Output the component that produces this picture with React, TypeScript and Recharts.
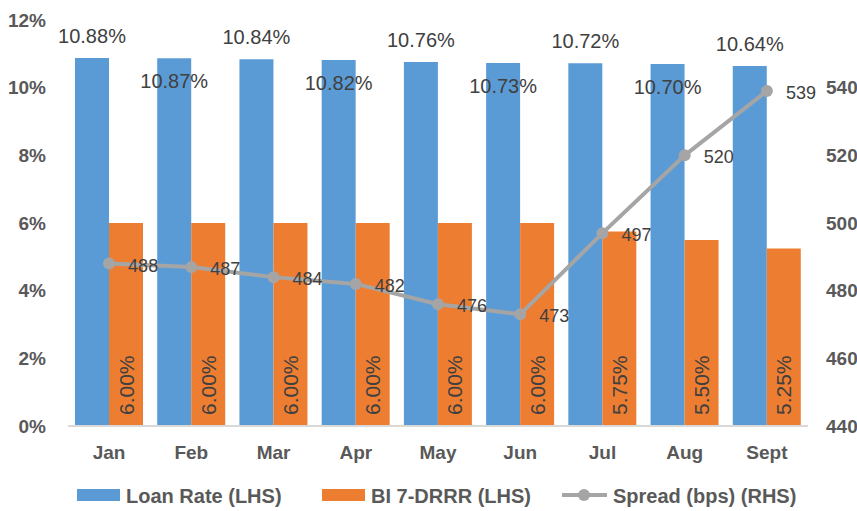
import React from "react";
import {
  ComposedChart,
  Bar,
  Line,
  XAxis,
  YAxis,
  LabelList,
  Legend,
} from "recharts";

const months = ["Jan", "Feb", "Mar", "Apr", "May", "Jun", "Jul", "Aug", "Sept"];
const loanRate = [10.88, 10.87, 10.84, 10.82, 10.76, 10.73, 10.72, 10.7, 10.64];
const biRate = [6.0, 6.0, 6.0, 6.0, 6.0, 6.0, 5.75, 5.5, 5.25];
const spread = [488, 487, 484, 482, 476, 473, 497, 520, 539];
const leftTicks = [0, 2, 4, 6, 8, 10, 12];
const rightTicks = [440, 460, 480, 500, 520, 540];

const data = months.map((m, i) => ({
  month: m,
  loan: loanRate[i],
  bi: biRate[i],
  spread: spread[i],
}));

const FONT = "'Liberation Sans', Arial, sans-serif";
const BLUE = "#5B9BD5";
const ORANGE = "#ED7D31";
const GREY = "#A5A5A5";
const TEXT = "#404040";
const AXIS_TEXT = "#595959";

const LoanLabel = (props: any) => {
  const { x, y, width, value, index } = props;
  const dy = index % 2 === 0 ? -22 : 23;
  return (
    <text
      x={x + width / 2}
      y={y + dy}
      textAnchor="middle"
      dominantBaseline="central"
      fontFamily={FONT}
      fontSize={20}
      fill={TEXT}
    >
      {value.toFixed(2)}%
    </text>
  );
};

const BiLabel = (props: any) => {
  const { x, y, width, height, value } = props;
  const cx = x + width / 2;
  const cy = y + height - 11;
  return (
    <text
      x={cx}
      y={cy}
      transform={`rotate(-90 ${cx} ${cy})`}
      textAnchor="start"
      dominantBaseline="central"
      fontFamily={FONT}
      fontSize={21}
      fill={TEXT}
    >
      {value.toFixed(2)}%
    </text>
  );
};

const SpreadLabel = (props: any) => {
  const { x, y, value } = props;
  return (
    <text
      x={x + 19}
      y={y + 2}
      textAnchor="start"
      dominantBaseline="central"
      fontFamily={FONT}
      fontSize={18}
      fill={TEXT}
    >
      {value}
    </text>
  );
};

const renderLegend = () => (
  <svg width={857} height={44} style={{ overflow: "visible" }}>
    <rect x={77} y={19} width={43} height={12} fill={BLUE} />
    <text x={126} y={26} dominantBaseline="central" fontFamily={FONT} fontSize={20} fontWeight="bold" fill={AXIS_TEXT}>
      Loan Rate (LHS)
    </text>
    <rect x={322} y={19} width={43} height={12} fill={ORANGE} />
    <text x={371} y={26} dominantBaseline="central" fontFamily={FONT} fontSize={20} fontWeight="bold" fill={AXIS_TEXT}>
      BI 7-DRRR (LHS)
    </text>
    <line x1={562} y1={25} x2={607} y2={25} stroke={GREY} strokeWidth={4} />
    <circle cx={584} cy={25} r={6} fill={GREY} />
    <text x={613} y={26} dominantBaseline="central" fontFamily={FONT} fontSize={20} fontWeight="bold" fill={AXIS_TEXT}>
      Spread (bps) (RHS)
    </text>
  </svg>
);

export default function App() {
  return (
    <div style={{ position: "absolute", left: 0, top: 0, width: 857, height: 511, background: "#fff" }}>
      <ComposedChart
        width={857}
        height={511}
        data={data}
        margin={{ top: 20, right: 0, bottom: 0, left: 0 }}
        barGap={0}
      >
        <XAxis
          dataKey="month"
          axisLine={{ stroke: "#D9D9D9", strokeWidth: 2 }}
          tickLine={false}
          tick={{ fontFamily: FONT, fontSize: 19, fontWeight: "bold", fill: AXIS_TEXT }}
          tickMargin={14}
          height={44}
        />
        <YAxis
          yAxisId="left"
          domain={[0, 12]}
          ticks={leftTicks}
          tickFormatter={(v) => `${v}%`}
          axisLine={false}
          tickLine={false}
          width={68}
          tick={{ fontFamily: FONT, fontSize: 19, fontWeight: "bold", fill: AXIS_TEXT }}
          tickMargin={16}
        />
        <YAxis
          yAxisId="right"
          orientation="right"
          domain={[440, 560]}
          ticks={rightTicks}
          axisLine={false}
          tickLine={false}
          width={49}
          tick={{ fontFamily: FONT, fontSize: 19, fontWeight: "bold", fill: AXIS_TEXT }}
          tickMargin={12}
        />
        <Legend verticalAlign="bottom" height={41} content={renderLegend} />
        <Bar yAxisId="left" dataKey="loan" fill={BLUE} barSize={34} isAnimationActive={false}>
          <LabelList dataKey="loan" content={LoanLabel} />
        </Bar>
        <Bar yAxisId="left" dataKey="bi" fill={ORANGE} barSize={34} isAnimationActive={false}>
          <LabelList dataKey="bi" content={BiLabel} />
        </Bar>
        <Line
          yAxisId="right"
          dataKey="spread"
          stroke={GREY}
          strokeWidth={4}
          dot={{ r: 6, fill: GREY, stroke: GREY, strokeWidth: 0 }}
          isAnimationActive={false}
        >
          <LabelList dataKey="spread" content={SpreadLabel} />
        </Line>
      </ComposedChart>
    </div>
  );
}
